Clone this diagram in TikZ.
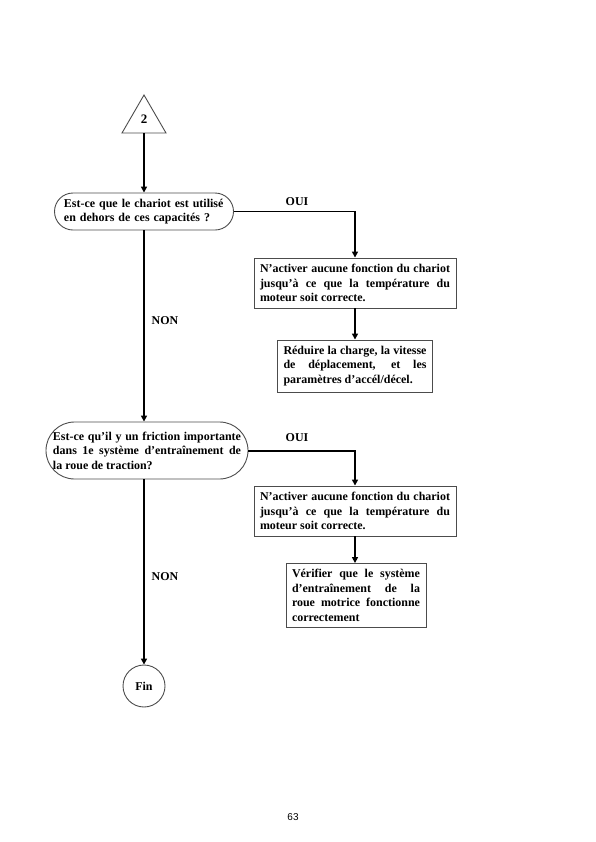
\documentclass[tikz,border=0pt]{standalone}
\usepackage{fontspec}
\setmainfont{Liberation Serif}
\setsansfont{Liberation Sans}
\usetikzlibrary{arrows.meta,shapes.geometric}
\begin{document}
\begin{tikzpicture}[x=1bp,y=-1bp,
  frame/.style={draw=black!70, line width=0.9pt},
  txt/.style={font=\bfseries\fontsize{12}{14.5}\selectfont},
  box/.style={frame, txt, rectangle, align=justify, inner xsep=6bp, inner ysep=2bp},
  pill/.style={frame, txt, rectangle, inner ysep=1bp},
  conn/.style={line width=2pt, -{Triangle[length=6bp,width=6bp]}},
  lbl/.style={txt, inner sep=1bp}]
\useasboundingbox (0,0) rectangle (596,842);

% start triangle
\draw[frame] (144,95) -- (166,133) -- (122,133) -- cycle;
\node[txt, font=\bfseries\fontsize{13}{14}\selectfont] (two) at (144,119) {2};
\coordinate (tb) at (144,133);

% decisions
\node[pill, rounded corners=18.5bp, minimum width=179bp, minimum height=37bp,
      text width=160bp, align=left, inner xsep=9.5bp] (d1) at (144,211.5)
  {Est-ce que le chariot est utilisé\\en dehors de ces capacités ?};

\node[pill, rounded corners=28.5bp, minimum width=202bp, minimum height=57bp,
      text width=188bp, align=justify, inner xsep=7bp] (d2) at (147,450.5)
  {Est-ce qu’il y un friction importante\linebreak dans 1e système d’entraînement de\linebreak la roue de traction?};

% boxes
\node[box, text width=190bp, minimum height=50bp] (b1) at (355,283)
  {N’activer aucune fonction du chariot\linebreak jusqu’à ce que la température du\linebreak moteur soit correcte.};
\node[box, text width=143bp, minimum height=52bp] (b2) at (355,366)
  {Réduire la charge, la vitesse\linebreak de déplacement, et les\linebreak paramètres d’accél/décel.};
\node[box, text width=190bp, minimum height=50bp] (b3) at (355,511)
  {N’activer aucune fonction du chariot\linebreak jusqu’à ce que la température du\linebreak moteur soit correcte.};
\node[box, text width=128bp, minimum height=64bp] (b4) at (356,595.5)
  {Vérifier que le système\linebreak d’entraînement de la\linebreak roue motrice fonctionne\linebreak correctement};

% end
\node[frame, txt, circle, minimum size=42bp, inner sep=0pt] (fin) at (144,686) {Fin};

% connectors
\draw[conn] (tb) -- (d1.north);
\draw[conn] (d1.east) -| (b1.north);
\draw[conn] (b1.south) -- (b1.south |- b2.north);
\draw[conn] (d1.south) -- (d1.south |- d2.north);
\draw[conn] (d2.east) -| (b3.north);
\draw[conn] (b3.south) -- (b3.south |- b4.north);
\draw[conn] (fin.north |- d2.south) -- (fin.north);

% labels
\node[lbl] (oui1) at (297,202) {OUI};
\node[lbl] (non1) at (165,321) {NON};
\node[lbl] (oui2) at (297,438) {OUI};
\node[lbl] (non2) at (165,577) {NON};

% page number
\node[font=\sffamily\fontsize{10}{12}\selectfont] (page) at (293,817) {63};
\end{tikzpicture}
\end{document}
